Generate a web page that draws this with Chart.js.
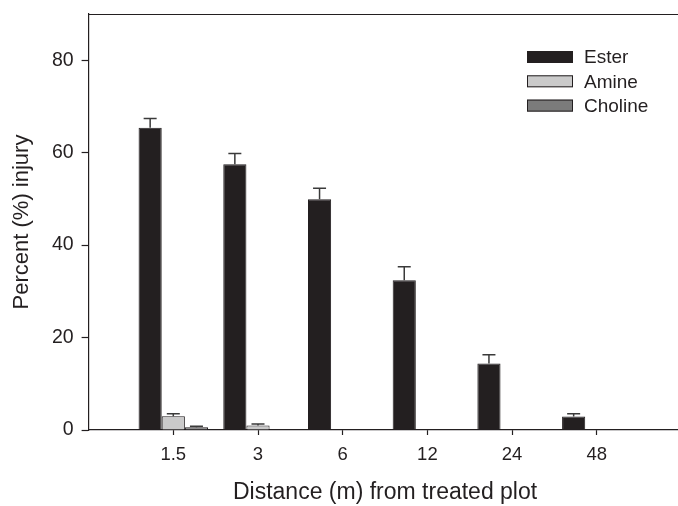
<!DOCTYPE html>
<html>
<head>
<meta charset="utf-8">
<script src="https://cdn.jsdelivr.net/npm/chart.js@4"></script>
<style>
html,body{margin:0;padding:0;background:#fff;overflow:hidden;}
#wrap{width:683px;height:506px;}
</style>
</head>
<body>
<div id="wrap"><canvas id="c" width="683" height="506"></canvas></div>
<script>
const categories = ['1.5', '3', '6', '12', '24', '48'];
const seriesNames = ['Ester', 'Amine', 'Choline'];
const esterValues = [65.4, 57.5, 49.9, 32.4, 14.4, 2.9];
const esterErrors = [2.0, 2.3, 2.4, 2.9, 1.9, 0.6];
const amineValues = [3.0, 1.0, 0, 0, 0, 0];
const amineErrors = [0.5, 0.3, 0, 0, 0, 0];
const cholineValues = [0.6, 0, 0, 0, 0, 0];
const cholineErrors = [0.2, 0, 0, 0, 0, 0];
const yTickValues = [0, 20, 40, 60, 80];

const FONT = '"Liberation Sans", Arial, Helvetica, sans-serif';
const INK = '#231f20';

function toPoints(vals){ return vals.map((v,i)=>({x:i+1,y:v})); }

const errorBars = {
  id:'errorBars',
  afterDatasetsDraw(chart){
    const ctx = chart.ctx, ys = chart.scales.y;
    chart.data.datasets.forEach((ds,i)=>{
      const meta = chart.getDatasetMeta(i);
      meta.data.forEach((el,j)=>{
        const e = ds.errors[j];
        if(!e) return;
        const top = ys.getPixelForValue(ds.data[j].y + e);
        ctx.save();
        ctx.strokeStyle = '#3a3a3a';
        ctx.lineWidth = 1.5;
        ctx.beginPath();
        ctx.moveTo(el.x, el.y);
        ctx.lineTo(el.x, top);
        ctx.moveTo(el.x-6.5, top);
        ctx.lineTo(el.x+6.5, top);
        ctx.stroke();
        ctx.restore();
      });
    });
  }
};

const frameAndLegend = {
  id:'frameAndLegend',
  afterDraw(chart){
    const ctx = chart.ctx, a = chart.chartArea;
    ctx.save();
    ctx.strokeStyle = INK;
    ctx.lineWidth = 1.2;
    ctx.beginPath();
    ctx.moveTo(a.left, a.top+0.5);
    ctx.lineTo(chart.width, a.top+0.5);
    ctx.stroke();
    // legend
    const y0 = 57, gap = 24.3;
    chart.data.datasets.forEach((ds,i)=>{
      const cy = y0 + i*gap;
      ctx.fillStyle = ds.backgroundColor;
      ctx.fillRect(527, cy-6, 46, 12);
      ctx.strokeStyle = INK;
      ctx.lineWidth = 1;
      ctx.strokeRect(527.5, cy-5.5, 45, 11);
      ctx.fillStyle = INK;
      ctx.font = '19px ' + FONT;
      ctx.textBaseline = 'middle';
      ctx.textAlign = 'left';
      ctx.fillText(ds.label, 584, cy+1);
    });
    ctx.restore();
  }
};

new Chart(document.getElementById('c'), {
  type:'bar',
  data:{
    datasets:[
      {label:seriesNames[0], data:toPoints(esterValues), errors:esterErrors, backgroundColor:'#231f20', borderColor:INK, borderWidth:1},
      {label:seriesNames[1], data:toPoints(amineValues), errors:amineErrors, backgroundColor:'#cacaca', borderColor:INK, borderWidth:1},
      {label:seriesNames[2], data:toPoints(cholineValues), errors:cholineErrors, backgroundColor:'#7b7b7b', borderColor:INK, borderWidth:1}
    ]
  },
  options:{
    responsive:false,
    animation:false,
    events:[],
    layout:{padding:{top:14,right:1.5,left:0,bottom:0}},
    datasets:{bar:{categoryPercentage:0.82,barPercentage:1.0,grouped:true}},
    plugins:{legend:{display:false},tooltip:{enabled:false}},
    scales:{
      x:{
        type:'linear', min:0, max:7,
        offset:false,
        afterFit(s){ s.height = 76; s.paddingLeft = 0; s.paddingRight = 0; },
        afterBuildTicks(s){ s.ticks = categories.map((c,i)=>({value:i+1})); },
        ticks:{
          autoSkip:false, maxRotation:0,
          color:INK, font:{family:FONT,size:18.5}, padding:9,
          callback:(v)=>categories[v-1]
        },
        grid:{offset:false, drawOnChartArea:false, drawTicks:true, tickLength:5, tickColor:INK, tickWidth:1.2},
        border:{display:true,color:INK,width:1.2},
        title:{display:true,text:'Distance (m) from treated plot',color:INK,font:{family:FONT,size:23},padding:{top:0,bottom:0}}
      },
      y:{
        type:'linear', min:0, max:90,
        afterFit(s){ s.width = 88.6; s.paddingTop = 0; s.paddingBottom = 0; },
        afterBuildTicks(s){ s.ticks = yTickValues.map(v=>({value:v})); },
        ticks:{color:INK,font:{family:FONT,size:19.5},padding:8},
        grid:{offset:false, drawOnChartArea:false, drawTicks:true, tickLength:7, tickColor:INK, tickWidth:1.2},
        border:{display:true,color:INK,width:1.2},
        title:{display:true,text:'Percent (%) injury',color:INK,font:{family:FONT,size:22},padding:{top:9,bottom:0}}
      }
    }
  },
  plugins:[errorBars, frameAndLegend]
});
</script>
</body>
</html>
